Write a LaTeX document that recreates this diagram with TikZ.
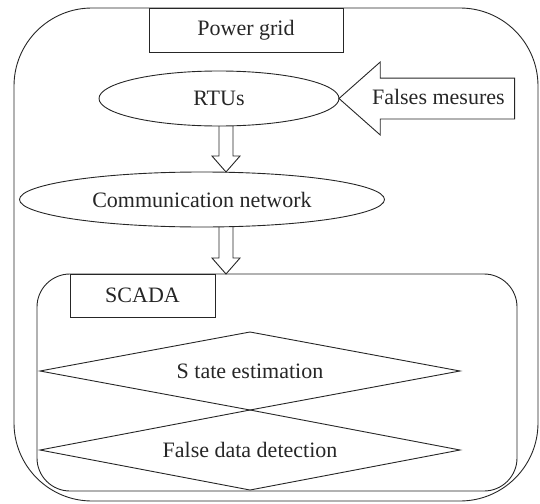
\documentclass[tikz,border=0pt]{standalone}
\usepackage{fontspec}
\setmainfont{Liberation Serif}
\usetikzlibrary{positioning}
\usetikzlibrary{shapes.geometric}
\usetikzlibrary{shapes.arrows}
\usetikzlibrary{calc}
\newcommand\hollowdown[2]{
  \draw let \p1=(#1), \p2=(#2) in
    (\x1-7pt,\y1) -- (\x1-7pt,\y2+16pt) -- (\x1-14pt,\y2+16pt) -- (\x1,\y2)
    -- (\x1+14pt,\y2+16pt) -- (\x1+7pt,\y2+16pt) -- (\x1+7pt,\y1);
}

\begin{document}
\begin{tikzpicture}[x=1pt, y=-1pt, line width=0.9pt, color=black!85,
    every node/.style={font=\fontsize{22}{26}\selectfont, inner sep=1pt, outer sep=0pt}]
	\useasboundingbox (0,0) rectangle (540,503);
	\node[draw, rounded corners=78pt, minimum width=524, minimum height=493] (grid) at (276,254.5) {};
	\node[draw, minimum width=194, minimum height=44, anchor=north] (pg) at (246,8) {Power grid};
	\node[draw, ellipse, minimum width=240, minimum height=55] (rtu) at (219,98.5) {RTUs};
	\node[draw, single arrow, shape border rotate=180, single arrow head extend=16pt, single arrow tip angle=83,
	      inner xsep=9.5pt, inner ysep=10.5pt, text height=15pt, text depth=4pt, anchor=tip] (fake) at (rtu.east) {Falses mesures};
	\node[draw, ellipse, minimum width=365, minimum height=55] (comm) at (202,199.5) {Communication network};
	% SCADA block
	\node[draw, rounded corners=33pt, minimum width=480, minimum height=217] (scada) at (277,382.5) {};
	\node[draw, minimum width=145, minimum height=43, anchor=north west] (scadalbl) at (70,274) {SCADA};
	\node[draw, diamond, shape aspect=5.4, minimum width=420, minimum height=78] (est) at (250,371) {S tate estimation};
	\node[draw, diamond, shape aspect=5.4, minimum width=420, minimum height=80, below=0pt of est] (fdd) {False data detection};
	% flow arrows
	\coordinate (flow) at (226,0);
	\hollowdown{rtu.south -| flow}{comm.north -| flow}
	\hollowdown{comm.south -| flow}{scada.north -| flow}
\end{tikzpicture}
\end{document}
